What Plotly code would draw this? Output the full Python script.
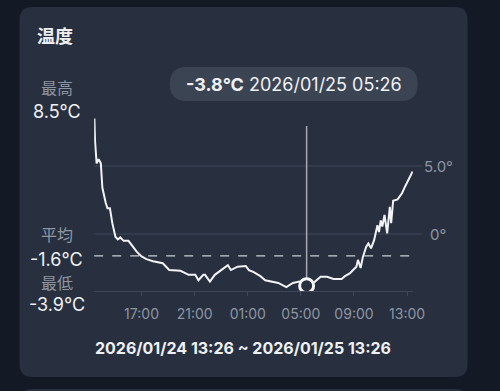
import plotly.graph_objects as go

W, H = 500, 391

# ---- data ----
times = [
    "2026-01-24 13:27", "2026-01-24 13:30", "2026-01-24 13:37", "2026-01-24 13:46", "2026-01-24 13:56",
    "2026-01-24 14:03", "2026-01-24 14:18", "2026-01-24 14:26", "2026-01-24 14:37", "2026-01-24 14:48",
    "2026-01-24 15:02", "2026-01-24 15:13", "2026-01-24 15:24", "2026-01-24 15:39", "2026-01-24 16:01",
    "2026-01-24 16:16", "2026-01-24 16:38", "2026-01-24 17:00", "2026-01-24 17:22", "2026-01-24 17:52",
    "2026-01-24 18:36", "2026-01-24 19:05", "2026-01-24 19:56", "2026-01-24 20:33", "2026-01-24 21:03",
    "2026-01-24 21:17", "2026-01-24 21:39", "2026-01-24 21:47", "2026-01-24 22:09", "2026-01-24 22:31",
    "2026-01-24 23:00", "2026-01-24 23:30", "2026-01-24 23:44", "2026-01-25 00:14", "2026-01-25 00:51",
    "2026-01-25 01:05", "2026-01-25 01:27", "2026-01-25 01:57", "2026-01-25 02:19", "2026-01-25 02:48",
    "2026-01-25 03:18", "2026-01-25 03:54", "2026-01-25 04:24", "2026-01-25 04:53", "2026-01-25 05:15",
    "2026-01-25 05:26", "2026-01-25 06:00", "2026-01-25 06:29", "2026-01-25 06:58", "2026-01-25 07:28",
    "2026-01-25 08:04", "2026-01-25 08:19", "2026-01-25 08:41", "2026-01-25 08:56", "2026-01-25 09:11",
    "2026-01-25 09:18", "2026-01-25 09:30", "2026-01-25 09:40", "2026-01-25 09:55", "2026-01-25 10:05",
    "2026-01-25 10:17", "2026-01-25 10:31", "2026-01-25 10:39", "2026-01-25 10:46", "2026-01-25 10:53",
    "2026-01-25 11:01", "2026-01-25 11:08", "2026-01-25 11:18", "2026-01-25 11:30", "2026-01-25 11:42",
    "2026-01-25 11:48", "2026-01-25 11:57", "2026-01-25 12:17", "2026-01-25 12:37", "2026-01-25 12:51",
    "2026-01-25 13:06", "2026-01-25 13:25",
]
temps = [
    8.5, 6.8, 5.2, 5.5, 5.2,
    3.4, 2.3, 1.9, 1.9, 0.8,
    -0.2, -0.4, -0.25, -0.5, -0.5,
    -0.8, -1.3, -1.65, -1.85, -2.0,
    -2.15, -2.65, -2.7, -3.0, -3.0,
    -3.4, -3.0, -3.0, -3.5, -3.0,
    -2.65, -2.3, -2.65, -2.4, -2.35,
    -2.65, -2.8, -3.1, -3.4, -3.5,
    -3.6, -3.9, -3.6, -3.5, -3.75,
    -3.8, -3.55, -3.15, -3.15, -3.3,
    -3.3, -3.1, -2.9, -2.65, -2.4,
    -1.9, -2.5, -1.7, -0.95, -0.7,
    -1.05, -0.45, 0.3, 0.65, 0.15,
    1.0, 0.55, 1.4, 0.05, 2.0,
    0.8, 2.45, 2.55, 3.0, 3.5,
    4.0, 4.6,
]
tick_vals = ["2026-01-24 17:00", "2026-01-24 21:00", "2026-01-25 01:00",
             "2026-01-25 05:00", "2026-01-25 09:00", "2026-01-25 13:00"]
tick_text = ["17:00", "21:00", "01:00", "05:00", "09:00", "13:00"]
grid_vals = [5.0, 0.0]
grid_text = ["5.0°", "0°"]
x_start, x_end = "2026-01-24 13:26", "2026-01-25 13:26"
avg_val = -1.6
sel_time, sel_temp = "2026-01-25 05:26", -3.8
stat_labels = ["最高", "平均", "最低"]
stat_values = ["8.5°C", "-1.6°C", "-3.9°C"]
title_text = "温度"
range_text = "2026/01/24 13:26 ~ 2026/01/25 13:26"
tip_value = "-3.8°C"
tip_time = "2026/01/25 05:26"

# ---- helpers (pixel -> paper) ----
def px(x):
    return x / W

def py(y):
    return 1 - y / H

def rrect(x0, y0, x1, y1, r):
    rx, ry = r / W, r / H
    X0, X1 = px(x0), px(x1)
    Y0, Y1 = py(y0), py(y1)  # Y0 top (bigger), Y1 bottom
    return (f"M {X0+rx},{Y0} L {X1-rx},{Y0} Q {X1},{Y0} {X1},{Y0-ry} "
            f"L {X1},{Y1+ry} Q {X1},{Y1} {X1-rx},{Y1} L {X0+rx},{Y1} "
            f"Q {X0},{Y1} {X0},{Y1+ry} L {X0},{Y0-ry} Q {X0},{Y0} {X0+rx},{Y0} Z")

FONT = "Inter, Noto Sans CJK JP, sans-serif"
BG = "#131a26"
CARD = "#283040"
GRID = "#3f4858"
GRAY = "#8e95a2"
WHITE = "#eef0f3"

PL, PR, PT, PB = 96.5, 423, 116, 291
y_lo = -4.19
y_hi = 8.68

fig = go.Figure()

fig.add_trace(go.Scatter(
    x=times, y=temps, mode="lines",
    line=dict(color="#f2f3f5", width=2),
    hoverinfo="skip", showlegend=False,
))
fig.add_trace(go.Scatter(
    x=[sel_time], y=[sel_temp], mode="markers",
    marker=dict(size=14, color=CARD, line=dict(color="#f5f6f8", width=3)),
    cliponaxis=True, hoverinfo="skip", showlegend=False,
))

shapes = [
    dict(type="path", xref="paper", yref="paper", path=rrect(20, 7, 479, 377, 13),
         fillcolor=CARD, line=dict(width=0), layer="below"),
    dict(type="path", xref="paper", yref="paper", path=rrect(20, 389, 479, 420, 13),
         fillcolor=CARD, line=dict(width=0), layer="below"),
    dict(type="path", xref="paper", yref="paper", path=rrect(174, 67, 428, 101, 17),
         fillcolor="#3b4453", line=dict(width=0), layer="below"),
]
for g in grid_vals:
    shapes.append(dict(type="line", xref="paper", yref="y", x0=px(PL), x1=px(433),
                       y0=g, y1=g, line=dict(color=GRID, width=1), layer="below"))
shapes.append(dict(type="line", xref="paper", yref="y", x0=px(PL), x1=px(422),
                   y0=avg_val, y1=avg_val, line=dict(color="#c9cdd3", width=1.2, dash="dash"),
                   layer="below"))
shapes.append(dict(type="line", xref="x", yref="paper", x0=sel_time, x1=sel_time,
                   y0=py(126), y1=py(PB), line=dict(color="#a4a9b2", width=1.5), layer="below"))

ann = []
ann.append(dict(x=px(36), y=py(36), xref="paper", yref="paper", text=f"<b>{title_text}</b>",
                showarrow=False, xanchor="left", yanchor="middle",
                font=dict(size=18, color=WHITE, family=FONT)))
label_y = [88, 235, 283]
value_y = [111, 259.5, 304]
for lab, ly, val, vy in zip(stat_labels, label_y, stat_values, value_y):
    ann.append(dict(x=px(58), y=py(ly), xref="paper", yref="paper", text=lab, showarrow=False,
                    xanchor="center", yanchor="middle", font=dict(size=16, color=GRAY, family=FONT)))
    ann.append(dict(x=px(58), y=py(vy), xref="paper", yref="paper", text=val, showarrow=False,
                    xanchor="center", yanchor="middle", font=dict(size=18, color=WHITE, family=FONT)))
for g, t in zip(grid_vals, grid_text):
    ann.append(dict(x=px(449), y=g, xref="paper", yref="y", text=t, showarrow=False,
                    xanchor="center", yanchor="middle", font=dict(size=15, color=GRAY, family=FONT)))
ann.append(dict(x=px(301), y=py(84), xref="paper", yref="paper",
                text=f"<b>{tip_value}</b> {tip_time}", showarrow=False,
                xanchor="center", yanchor="middle", font=dict(size=18, color=WHITE, family=FONT)))
ann.append(dict(x=px(249), y=py(348), xref="paper", yref="paper", text=f"<b>{range_text}</b>",
                showarrow=False, xanchor="center", yanchor="middle",
                font=dict(size=16, color=WHITE, family=FONT)))

fig.update_layout(
    width=W, height=H, autosize=False,
    margin=dict(l=0, r=0, t=0, b=0, pad=0),
    paper_bgcolor=BG, plot_bgcolor="rgba(0,0,0,0)",
    shapes=shapes, annotations=ann, showlegend=False,
    xaxis=dict(domain=[px(PL), px(PR)], range=[x_start, x_end], type="date",
               tickvals=tick_vals, ticktext=tick_text, showgrid=False, zeroline=False,
               showline=True, linecolor=GRID, linewidth=1,
               ticks="outside", ticklen=4, tickcolor=GRID, ticklabelstandoff=6,
               tickfont=dict(size=14, color=GRAY, family=FONT), fixedrange=True),
    yaxis=dict(domain=[py(PB), py(PT)], range=[y_lo, y_hi], showgrid=False, zeroline=False,
               showticklabels=False, showline=False, fixedrange=True),
)

fig.write_html("out.html", config={"displayModeBar": False})
